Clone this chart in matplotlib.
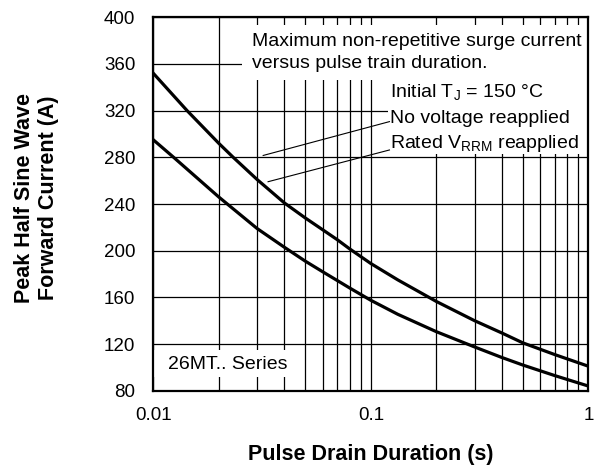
# Peak half sine wave forward current vs pulse drain duration (26MT.. Series)

import matplotlib.pyplot as plt
from matplotlib.patches import Rectangle
from matplotlib.ticker import FixedLocator, NullFormatter

plt.rcParams['font.family'] = ['Liberation Sans', 'DejaVu Sans']
plt.rcParams['mathtext.fontset'] = 'custom'
plt.rcParams['mathtext.rm'] = 'Liberation Sans'
plt.rcParams['mathtext.default'] = 'regular'

# data
# ---

# no voltage reapplied (upper curve)
x_no_volt = [0.01, 0.0143, 0.02, 0.0233, 0.03, 0.04, 0.05, 0.06, 0.07,
             0.08, 0.1, 0.133, 0.2, 0.3, 0.4, 0.5, 0.7, 1.0]
i_no_volt = [352, 320, 292, 280, 261, 241, 228, 218, 209.5,
             201.5, 189, 175, 156.5, 140, 129.5, 121, 111, 101]

# rated VRRM reapplied (lower curve)
x_rated = [0.01, 0.0124, 0.02, 0.03, 0.04, 0.05, 0.06, 0.08,
           0.1, 0.133, 0.2, 0.3, 0.4, 0.5, 0.7, 1.0]
i_rated = [295, 280, 246, 219, 203, 191, 182, 168,
           157.5, 145.5, 130.6, 117.5, 108.5, 102, 93, 84]

y_ticks = [80, 120, 160, 200, 240, 280, 320, 360, 400]
x_ticks = [0.01, 0.1, 1]
x_tick_labels = ["0.01", "0.1", "1"]
x_grid = [m * d for d in (0.01, 0.1) for m in range(1, 10)] + [1.0]

# plot
# ---

fig = plt.figure(figsize=(6.01, 4.70), dpi=100)
ax = fig.add_axes([0.2551, 0.1687, 0.7238, 0.7945])

ax.set_xscale('log')
ax.set_xlim(0.01, 1)
ax.set_ylim(80, 400)

# grid
for xv in x_grid:
    ax.axvline(xv, color='black', lw=0.9, zorder=1)
for yv in y_ticks:
    ax.axhline(yv, color='black', lw=0.9, zorder=1)

# white boxes behind the annotations
for (x0, y0, w, h) in [(0.204, 0.832, 0.796, 0.147),
                       (0.540, 0.635, 0.460, 0.197),
                       (0.0, 0.037, 0.319, 0.072)]:
    ax.add_patch(Rectangle((x0, y0), w, h, transform=ax.transAxes,
                           facecolor='white', edgecolor='none', zorder=2))

ax.plot(x_no_volt, i_no_volt, color='black', lw=2.3, zorder=3,
        solid_joinstyle='round')
ax.plot(x_rated, i_rated, color='black', lw=2.3, zorder=3,
        solid_joinstyle='round')

# leader lines
ax.plot([0.0320, 0.1218], [281.6, 310.6], color='black', lw=0.8, zorder=3)
ax.plot([0.0337, 0.1218], [259.1, 286.3], color='black', lw=0.8, zorder=3)

fs = 14
ax.text(0.227, 0.934, "Maximum non-repetitive surge current",
        transform=ax.transAxes, fontsize=fs, va='center', zorder=4)
ax.text(0.227, 0.877, "versus pulse train duration.",
        transform=ax.transAxes, fontsize=fs, va='center', zorder=4)
ax.text(0.545, 0.800, "Initial T$_{J}$ = 150 °C",
        transform=ax.transAxes, fontsize=fs, va='center', zorder=4)
ax.text(0.545, 0.730, "No voltage reapplied",
        transform=ax.transAxes, fontsize=fs, va='center', zorder=4)
ax.text(0.545, 0.662, "Rated V$_{RRM}$ reapplied",
        transform=ax.transAxes, fontsize=fs, va='center', zorder=4)
ax.text(0.034, 0.069, "26MT.. Series",
        transform=ax.transAxes, fontsize=fs, va='center', zorder=4)

# ticks
ax.xaxis.set_major_locator(FixedLocator(x_ticks))
ax.set_xticklabels(x_tick_labels)
ax.xaxis.set_minor_formatter(NullFormatter())
ax.set_yticks(y_ticks)
ax.tick_params(axis='both', which='both', length=0, labelsize=13.5)
ax.tick_params(axis='y', pad=13)
ax.tick_params(axis='x', pad=12)

for s in ax.spines.values():
    s.set_linewidth(1.6)
    s.set_zorder(5)

ax.set_xlabel("Pulse Drain Duration (s)", fontsize=15.5, fontweight='bold')
ax.xaxis.set_label_coords(0.5, -0.170)
ax.xaxis.label.set_va('center')
ax.set_ylabel("Peak Half Sine Wave\nForward Current (A)", fontsize=15.5,
              fontweight='bold', va='center')
ax.yaxis.set_label_coords(-0.2685, 0.517)

fig.savefig("out.png", dpi=100)
plt.close()
